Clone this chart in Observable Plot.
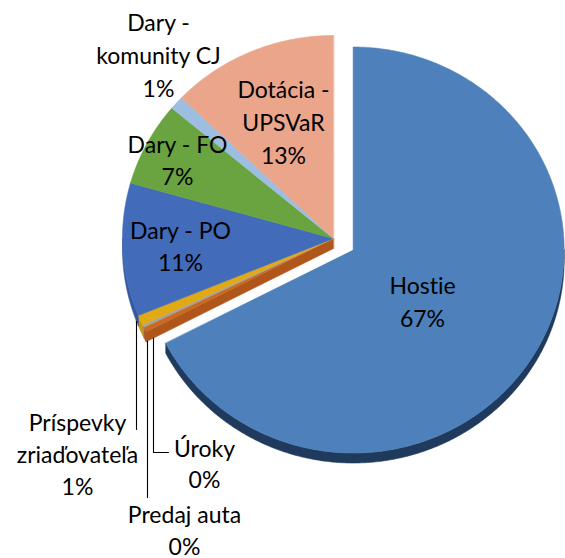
<!DOCTYPE html>
<html><head><meta charset="utf-8">
<script src="https://cdn.jsdelivr.net/npm/d3@7"></script>
<script src="https://cdn.jsdelivr.net/npm/@observablehq/plot@0.6"></script>
<style>html,body{margin:0;padding:0;background:#fff}#chart svg{display:block}#chart svg text{font-variant-ligatures:none;font-feature-settings:"liga" 0}</style>
</head><body><div id="chart"></div>
<script>
// ---- data ----
const categories = ["Hostie","Úroky","Predaj auta","Príspevky zriaďovateľa","Dary - PO","Dary - FO","Dary - komunity CJ","Dotácia - UPSVaR"];
const labelLines = [["Hostie"],["Úroky"],["Predaj auta"],["Príspevky","zriaďovateľa"],["Dary - PO"],["Dary - FO"],["Dary -","komunity CJ"],["Dotácia -","UPSVaR"]];
const shares = [67.4, 0.4, 0.2, 0.8, 10.6, 6.7, 1.1, 12.8];
const explodedCategories = ["Hostie"];

// ---- styles ----
const topColors  = ["#4E81BB","#C96A24","#A3A3A3","#E1AA14","#426BBA","#6AA440","#9DBEE1","#EAA58A"];
const sideColors = ["#1F3A5C","#B0561A","#8A8A8A","#C8960E","#34589E","#578A33","#84A6CB","#D08C72"];

// ---- layout ----
const W = 565, H = 558;
const cx = 333, cy = 238, rx = 211, ry = 203, depth = 10, explode = 23;
const fontSize = 23;
// first-line baseline anchors for each label
const labelAnchor = [[422,293],[204,456],[184,522],[77,430],[180,238],[177,152],[158,30],[283,97]];
const labelGap = [33,31,32,32,32,32,33,33];
// leader lines: [x of vertical, end y, elbow end x or null]
const leaderSpec = {1:[153,452,168], 2:[147,497,null], 3:[136,429,null]};

const arcs = d3.pie().sort(null).value(d => d)(shares);
const rad = Math.PI / 180;

function centerOf(i) {
  const a = arcs[i];
  if (!explodedCategories.includes(categories[i])) return [cx, cy];
  const m = (a.startAngle + a.endAngle) / 2;
  return [cx + explode * Math.sin(m), cy - explode * Math.cos(m) * ry / rx];
}
function rimPts(c, a0, a1, dz) {
  const n = Math.max(2, Math.ceil((a1 - a0) / (0.5 * rad)) + 1);
  const pts = [];
  for (let k = 0; k < n; k++) {
    const t = a0 + (a1 - a0) * k / (n - 1);
    pts.push([c[0] + rx * Math.sin(t), c[1] - ry * Math.cos(t) + dz]);
  }
  return pts;
}

const layers = {groupSide: [], groupTop: [], explSide: [], explTop: []};
function pushPoly(layer, id, color, pts) {
  pts.forEach(([x, y]) => layers[layer].push({id, color, x, y}));
}

arcs.forEach((a, i) => {
  const c = centerOf(i);
  const ex = explodedCategories.includes(categories[i]);
  const s0 = Math.max(a.startAngle, 90 * rad), s1 = Math.min(a.endAngle, 270 * rad);
  if (s1 > s0) {
    const top = rimPts(c, s0, s1, 0), bot = rimPts(c, s0, s1, depth).reverse();
    pushPoly(ex ? "explSide" : "groupSide", "s" + i, sideColors[i], top.concat(bot));
  }
  pushPoly(ex ? "explTop" : "groupTop", "t" + i, topColors[i], [c].concat(rimPts(c, a.startAngle, a.endAngle, 0)));
});

// cut face of the non-exploded group facing the gap
const firstGroup = arcs.findIndex((a, i) => !explodedCategories.includes(categories[i]));
const gA = arcs[firstGroup].startAngle;
const gRim = [cx + rx * Math.sin(gA), cy - ry * Math.cos(gA)];
pushPoly("groupSide", "cut", sideColors[firstGroup], [[cx, cy], gRim, [gRim[0], gRim[1] + depth], [cx, cy + depth]]);

function bodyBottomAt(x) {
  if (x > gRim[0]) {
    const t = (x - cx) / (gRim[0] - cx);
    return cy + depth + t * (gRim[1] - cy);
  }
  const s = (x - cx) / rx;
  return cy + ry * Math.sqrt(Math.max(0, 1 - s * s)) + depth;
}
const leaders = [];
Object.entries(leaderSpec).forEach(([i, [lx, ly, ex]]) => {
  leaders.push({id: i, x: lx, y: bodyBottomAt(lx)});
  leaders.push({id: i, x: lx, y: ly});
  if (ex != null) leaders.push({id: i, x: ex, y: ly});
});

const texts = [];
arcs.forEach((a, i) => {
  const pct = Math.round(shares[i]) + "%";
  const lines = labelLines[i].concat([pct]);
  const [lx, ly] = labelAnchor[i];
  lines.forEach((t, k) => texts.push({x: lx, y: ly + k * labelGap[i], text: t}));
});

const polyOpts = {x: "x", y: "y", z: "id", fill: "color", stroke: "color", strokeWidth: 0.6, curve: "linear-closed"};

const chart = Plot.plot({
  width: W, height: H, margin: 0,
  x: {domain: [0, W], range: [0, W], axis: null},
  y: {domain: [0, H], range: [0, H], axis: null},
  color: {type: "identity"},
  style: {background: "#fff"},
  marks: [
    Plot.line(layers.groupSide, polyOpts),
    Plot.line(layers.groupTop, polyOpts),
    Plot.line(layers.explSide, polyOpts),
    Plot.line(layers.explTop, polyOpts),
    Plot.line(leaders, {x: "x", y: "y", z: "id", stroke: "#000", strokeWidth: 1.1}),
    Plot.text(texts, {x: "x", y: "y", text: "text", textAnchor: "middle", fontSize, fontFamily: "Lato", fill: "#000", dy: -0.32 * fontSize})
  ]
});
document.getElementById("chart").appendChild(chart);
</script>
</body></html>
